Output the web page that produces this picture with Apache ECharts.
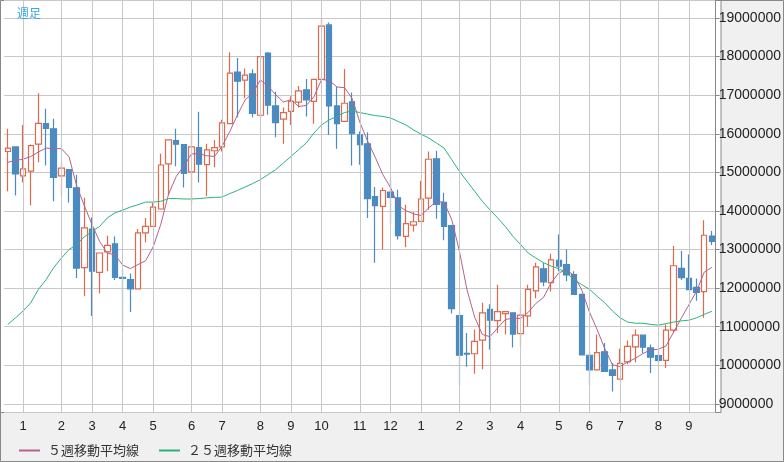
<!DOCTYPE html>
<html><head><meta charset="utf-8">
<script src="https://cdn.jsdelivr.net/npm/echarts@6/dist/echarts.min.js"></script>
<style>html,body{margin:0;padding:0;background:#f0f0f0}#c{width:784px;height:462px}</style>
</head><body><div id="c"></div>
<script>
// values in millions
const opens  = [15.54,15.66,14.91,15.03,15.73,16.26,16.13,14.91,15.07,14.60,12.53,13.53,12.41,12.94,13.15,12.28,12.22,11.98,13.43,13.60,14.05,15.22,15.82,15.72,15.01,15.64,15.20,15.56,15.66,16.26,17.60,17.39,17.55,16.48,18.09,16.72,16.38,16.58,16.82,17.14,16.84,17.41,18.82,16.72,16.32,16.83,15.97,15.74,14.37,14.12,14.49,14.34,13.34,13.63,13.73,14.33,15.35,14.22,13.62,11.29,10.31,10.30,10.65,11.45,11.16,11.34,11.36,10.82,11.28,11.93,12.50,12.14,12.72,12.61,12.35,11.84,10.26,9.88,10.35,9.88,9.64,10.09,10.48,10.78,10.45,10.25,10.13,10.91,12.51,12.25,12.02,11.91,13.35];
const closes = [15.63,14.96,15.09,15.69,16.27,16.14,14.87,15.11,14.61,12.52,13.56,12.44,12.91,13.11,12.28,12.25,11.98,13.43,13.60,14.10,15.19,15.84,15.73,14.97,15.66,15.21,15.58,15.64,16.28,17.57,17.36,17.52,16.53,18.00,16.74,16.29,16.55,16.84,17.11,16.88,17.41,18.79,16.72,16.26,16.79,16.00,15.72,14.32,14.14,14.53,14.35,13.36,13.67,13.72,14.31,15.34,14.17,13.60,11.47,10.26,10.29,10.62,11.36,11.17,11.39,11.39,10.81,11.30,11.97,12.55,12.16,12.73,12.57,12.34,11.84,10.27,9.88,10.33,9.84,9.74,10.05,10.49,10.78,10.47,10.21,10.13,10.91,12.58,12.27,11.96,11.89,13.37,13.21];
const lows   = [14.51,14.40,14.74,14.15,15.26,15.18,14.25,14.40,14.22,12.26,11.79,11.28,11.86,12.44,12.21,10.89,11.38,11.97,13.19,13.60,14.03,14.42,15.16,14.61,14.18,14.74,14.38,15.13,15.54,16.26,16.43,16.92,16.43,16.43,16.49,15.91,15.74,16.23,16.68,16.45,16.26,17.41,15.97,15.61,16.32,15.18,15.20,13.82,12.66,13.00,13.65,13.26,13.06,13.47,13.73,14.03,13.80,13.24,11.34,9.49,9.96,9.78,9.90,10.41,10.84,10.80,10.46,10.50,11.00,11.74,12.05,11.91,12.44,12.18,11.84,10.27,9.49,9.88,9.84,9.32,9.64,10.03,10.08,10.32,9.80,10.06,9.93,10.84,12.21,11.96,11.67,11.23,13.12];
const highs  = [16.13,15.66,16.23,15.72,17.05,16.65,16.39,15.24,15.07,14.94,14.34,13.83,12.91,13.36,13.34,12.48,12.38,13.53,13.82,14.21,15.48,15.84,16.13,15.72,16.02,16.57,15.74,15.84,16.36,18.11,17.96,17.69,17.67,18.02,18.12,17.09,16.68,16.97,17.24,17.42,17.41,19.00,18.88,17.22,17.68,17.07,16.06,16.04,14.62,14.61,14.81,14.55,14.16,13.97,14.78,15.54,15.56,14.47,13.62,11.36,10.84,10.93,11.62,11.58,12.09,11.39,11.36,11.55,12.09,12.66,12.66,12.89,13.39,13.00,12.44,11.84,10.34,10.80,10.58,10.06,10.43,10.64,10.93,10.78,10.54,10.37,11.06,13.09,12.96,12.87,12.25,13.76,13.48];
// 25-week MA (depends on weeks before the chart)
const ma25 = [11.06,11.23,11.41,11.62,11.97,12.22,12.53,12.78,13.00,13.13,13.33,13.47,13.60,13.82,13.95,14.02,14.10,14.16,14.23,14.23,14.25,14.32,14.32,14.31,14.31,14.32,14.34,14.35,14.36,14.45,14.53,14.62,14.71,14.81,14.94,15.07,15.24,15.41,15.59,15.76,16.02,16.23,16.36,16.45,16.55,16.59,16.55,16.51,16.47,16.45,16.41,16.32,16.23,16.10,15.99,15.89,15.76,15.63,15.33,15.03,14.77,14.51,14.25,14.03,13.82,13.60,13.34,13.13,12.91,12.78,12.66,12.57,12.50,12.40,12.22,12.09,11.97,11.79,11.62,11.41,11.23,11.12,11.09,11.09,11.06,11.04,11.08,11.12,11.15,11.17,11.23,11.32,11.40];
// first 4 points of 5-week MA (depend on prior weeks)
const ma5Head = [15.26,15.31,15.34,15.41];
const monthIdx = [2,7,11,15,19,24,28,33,37,41,46,50,54,59,63,67,72,76,80,85,89];
const monthLabels = ['1','2','3','4','5','6','7','8','9','10','11','12','1','2','3','4','5','6','7','8','9'];

const S = 1e6;
const n = opens.length;
const cats = opens.map((_, i) => 'w' + i);
const labelMap = {};
monthIdx.forEach((i, k) => labelMap[i] = monthLabels[k]);
const candle = opens.map((o, i) => [o * S, closes[i] * S, lows[i] * S, highs[i] * S]);
const ma5 = closes.map((c, i) => {
  if (i < 4) return ma5Head[i] * S;
  let s = 0; for (let k = i - 4; k <= i; k++) s += closes[k];
  return s / 5 * S;
});
const ma25d = ma25.map(v => v * S);

const chart = echarts.init(document.getElementById('c'));
chart.setOption({
  animation: false,
  backgroundColor: '#f0f0f0',
  title: { text: '週足', left: 12, top: 2, textStyle: { fontSize: 12, fontWeight: 'normal', color: '#3aa9e2', fontFamily: 'Noto Sans CJK JP' } },
  legend: {
    left: 14, top: 439, itemWidth: 21, itemHeight: 2, itemGap: 20, icon: 'rect',
    textStyle: { fontSize: 13, color: '#333', fontFamily: 'Noto Sans CJK JP', padding: [0, 0, 0, 3] },
    data: ['５週移動平均線', '２５週移動平均線']
  },
  graphic: [
    { type: 'rect', z: -10, shape: { x: 0.5, y: 0.5, width: 720.5, height: 412 }, style: { fill: '#fff', stroke: '#888', lineWidth: 1 } },
    { type: 'rect', z: -11, shape: { x: 0.5, y: 0.5, width: 783, height: 461 }, style: { fill: '#f0f0f0', stroke: '#888', lineWidth: 1 } }
  ],
  grid: { left: 4, right: 63, top: 0, bottom: 50 },
  xAxis: {
    type: 'category', data: cats, boundaryGap: true,
    axisLine: { show: false }, axisTick: { show: false }, splitLine: { show: false },
    axisLabel: { interval: (i) => labelMap[i] !== undefined, formatter: (v, i) => labelMap[i] || '', fontSize: 13, color: '#222', margin: 8, fontFamily: 'Liberation Sans' }
  },
  yAxis: {
    type: 'value', position: 'right', min: 8.79 * S, max: 19.466 * S, splitNumber: 10, scale: true,
    axisLine: { show: true, lineStyle: { color: '#888' } },
    axisTick: { show: true, length: 4, lineStyle: { color: '#888' } },
    splitLine: { lineStyle: { color: '#c8c8c8' } },
    axisLabel: {
      showMinLabel: false, showMaxLabel: false, margin: 3, fontSize: 14, color: '#222', fontFamily: 'Liberation Sans',
      formatter: v => Math.abs(v / S - Math.round(v / S)) < 1e-6 ? String(Math.round(v / S) * S) : ''
    }
  },
  series: [
    {
      type: 'candlestick', data: candle, barWidth: 6,
      itemStyle: { color: '#ffffff', color0: '#4a8bc2', borderColor: '#dd6a4c', borderColor0: '#4a8bc2', borderWidth: 1.2 },
      markLine: {
        silent: true, symbol: 'none', label: { show: false },
        lineStyle: { color: '#c8c8c8', type: 'solid', width: 1 },
        data: monthIdx.map(i => ({ xAxis: i }))
      },
      z: 3
    },
    { name: '５週移動平均線', type: 'line', data: ma5, showSymbol: false, symbol: 'none', lineStyle: { color: '#b5628f', width: 1 }, itemStyle: { color: '#b5628f' }, z: 4 },
    { name: '２５週移動平均線', type: 'line', data: ma25d, showSymbol: false, symbol: 'none', lineStyle: { color: '#2db37a', width: 1 }, itemStyle: { color: '#2db37a' }, z: 4 }
  ]
});
</script></body></html>
